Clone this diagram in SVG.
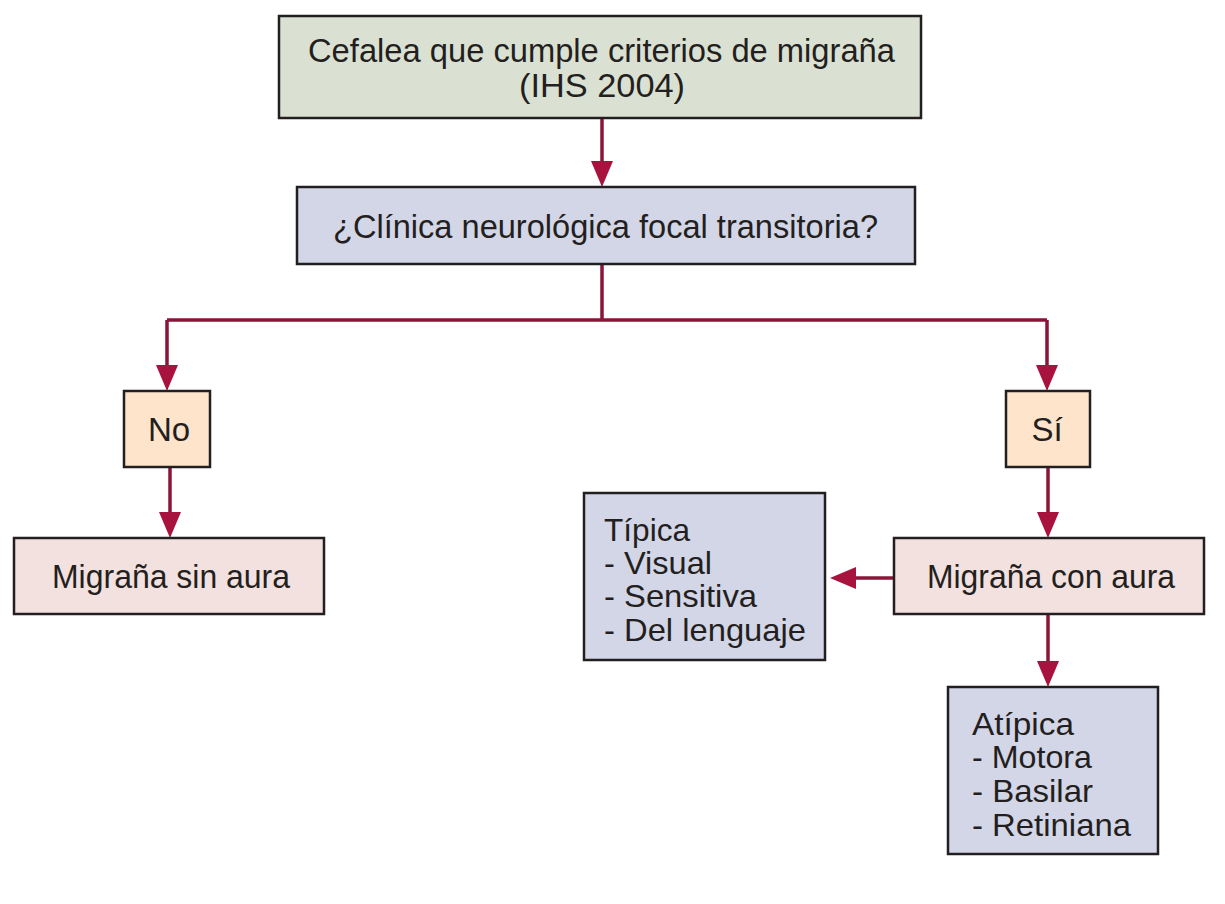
<svg xmlns="http://www.w3.org/2000/svg" width="1225" height="904" viewBox="0 0 1225 904">
<style>
.box{stroke:#231f20;stroke-width:2.5}
.g{fill:#dae1d3}
.b{fill:#d3d6e6}
.o{fill:#fde4cb}
.p{fill:#f3e1df}
text{font-family:"Liberation Sans","Arial",sans-serif;font-size:33px;fill:#231f20}
.l{font-size:32px}
.c{text-anchor:middle}
.ln{fill:none;stroke:#8b1538;stroke-width:3.5}
.ah{fill:#a8133d}
</style>
<rect width="1225" height="904" fill="#ffffff"/>
<g id="connectors">
<path class="ln" d="M602,118 V164"/>
<polygon class="ah" points="591,161 613,161 602,187"/>
<path class="ln" d="M602,264 V320 M167,320 H1047 M167,320 V368 M1047,320 V368"/>
<polygon class="ah" points="156,365 178,365 167,391"/>
<polygon class="ah" points="1036,365 1058,365 1047,391"/>
<path class="ln" d="M170,467 V515"/>
<polygon class="ah" points="159,512 181,512 170,538"/>
<path class="ln" d="M1048,467 V515"/>
<polygon class="ah" points="1037,512 1059,512 1048,538"/>
<path class="ln" d="M894,578 H852"/>
<polygon class="ah" points="856,567 856,589 830,578"/>
<path class="ln" d="M1048,614 V664"/>
<polygon class="ah" points="1037,661 1059,661 1048,687"/>
</g>
<g id="n1">
<rect class="box g" x="279" y="16" width="642" height="102"/>
<text class="c" x="601.5" y="62" textLength="587" lengthAdjust="spacingAndGlyphs">Cefalea que cumple criterios de migraña</text>
<text class="c" x="602" y="97" textLength="166" lengthAdjust="spacingAndGlyphs">(IHS 2004)</text>
</g>
<g id="n2">
<rect class="box b" x="297" y="187" width="618" height="77"/>
<text class="c" x="605.5" y="238" textLength="545" lengthAdjust="spacingAndGlyphs">¿Clínica neurológica focal transitoria?</text>
</g>
<g id="no">
<rect class="box o" x="124" y="391" width="86" height="76"/>
<text class="c" x="169" y="441">No</text>
</g>
<g id="si">
<rect class="box o" x="1006" y="391" width="84" height="76"/>
<text class="c" x="1047" y="441">Sí</text>
</g>
<g id="sinaura">
<rect class="box p" x="14" y="538" width="310" height="76"/>
<text class="c" x="171" y="588" textLength="238" lengthAdjust="spacingAndGlyphs">Migraña sin aura</text>
</g>
<g id="conaura">
<rect class="box p" x="894" y="538" width="310" height="76"/>
<text class="c" x="1051" y="588" textLength="248" lengthAdjust="spacingAndGlyphs">Migraña con aura</text>
</g>
<g id="tipica">
<rect class="box b" x="584" y="493" width="241" height="167"/>
<text class="l" x="604" y="541" textLength="86" lengthAdjust="spacingAndGlyphs">Típica</text>
<text class="l" x="604" y="574" textLength="108" lengthAdjust="spacingAndGlyphs">- Visual</text>
<text class="l" x="604" y="607" textLength="153" lengthAdjust="spacingAndGlyphs">- Sensitiva</text>
<text class="l" x="604" y="641" textLength="202" lengthAdjust="spacingAndGlyphs">- Del lenguaje</text>
</g>
<g id="atipica">
<rect class="box b" x="948" y="687" width="210" height="167"/>
<text class="l" x="972" y="735" textLength="102" lengthAdjust="spacingAndGlyphs">Atípica</text>
<text class="l" x="972" y="768" textLength="120" lengthAdjust="spacingAndGlyphs">- Motora</text>
<text class="l" x="972" y="802" textLength="121" lengthAdjust="spacingAndGlyphs">- Basilar</text>
<text class="l" x="972" y="836" textLength="159" lengthAdjust="spacingAndGlyphs">- Retiniana</text>
</g>
</svg>
